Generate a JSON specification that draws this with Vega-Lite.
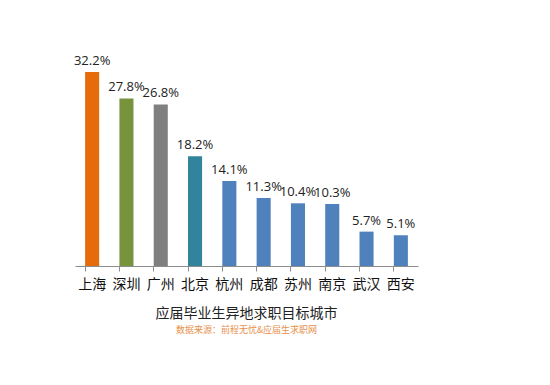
{
  "$schema": "https://vega.github.io/schema/vega-lite/v6.json",
  "autosize": {"type": "none"},
  "width": 343,
  "height": 211,
  "padding": {"left": 75, "top": 55, "right": 132, "bottom": 119},
  "background": "white",
  "data": {
    "values": [
      {"city": "上海", "value": 32.2, "label": "32.2%"},
      {"city": "深圳", "value": 27.8, "label": "27.8%"},
      {"city": "广州", "value": 26.8, "label": "26.8%"},
      {"city": "北京", "value": 18.2, "label": "18.2%"},
      {"city": "杭州", "value": 14.1, "label": "14.1%"},
      {"city": "成都", "value": 11.3, "label": "11.3%"},
      {"city": "苏州", "value": 10.4, "label": "10.4%"},
      {"city": "南京", "value": 10.3, "label": "10.3%"},
      {"city": "武汉", "value": 5.7, "label": "5.7%"},
      {"city": "西安", "value": 5.1, "label": "5.1%"}
    ]
  },
  "title": {
    "text": "应届毕业生异地求职目标城市",
    "subtitle": "数据来源：前程无忧&应届生求职网",
    "orient": "bottom",
    "anchor": "middle",
    "font": "Noto Sans CJK SC",
    "fontSize": 14,
    "fontWeight": "normal",
    "color": "#222222",
    "subtitleFont": "Noto Sans CJK SC",
    "subtitleFontSize": 9,
    "subtitleColor": "#E8904A",
    "subtitlePadding": 5,
    "offset": 16
  },
  "config": {"view": {"stroke": null}},
  "encoding": {
    "x": {
      "field": "city",
      "type": "nominal",
      "sort": null,
      "scale": {"paddingInner": 0.59, "paddingOuter": 0.295},
      "axis": {
        "title": null,
        "labelAngle": 0,
        "labelFont": "Noto Sans CJK SC",
        "labelFontSize": 14,
        "labelColor": "#111111",
        "labelPadding": 6,
        "domainColor": "#8c8c8c",
        "tickColor": "#8c8c8c",
        "tickSize": 5,
        "bandPosition": 0
      }
    },
    "y": {
      "field": "value",
      "type": "quantitative",
      "scale": {"domain": [0, 35]},
      "axis": null
    }
  },
  "layer": [
    {
      "mark": {"type": "bar"},
      "encoding": {
        "color": {
          "field": "city",
          "type": "nominal",
          "scale": {
            "domain": ["上海", "深圳", "广州", "北京", "杭州", "成都", "苏州", "南京", "武汉", "西安"],
            "range": ["#E46C0A", "#77933C", "#7F7F7F", "#31849B", "#4F81BD", "#4F81BD", "#4F81BD", "#4F81BD", "#4F81BD", "#4F81BD"]
          },
          "legend": null
        }
      }
    },
    {
      "mark": {"type": "text", "dy": -11, "font": "Open Sans", "fontSize": 13, "color": "#222222"},
      "encoding": {"text": {"field": "label"}}
    }
  ]
}
